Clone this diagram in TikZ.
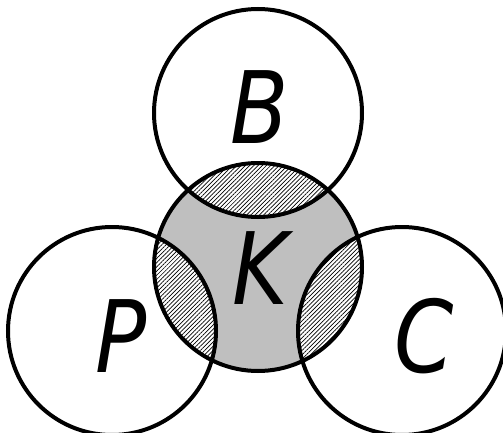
\documentclass[tikz,border=0pt]{standalone}
\usepackage{fontspec}
\newfontfamily\lblfont{DejaVu Sans}
\usetikzlibrary{patterns.meta}
\tikzset{ring/.style={draw,line width=4pt},
 core/.style={fill=black!25},
 lens/.style={fill=white,postaction={pattern={Lines[angle=45,distance=3pt,line width=.7pt]}}},
 lbl/.style={font=\lblfont\itshape\fontsize{100}{100}\selectfont,inner sep=0pt,xscale=.85}}
\begin{document}
\begin{tikzpicture}[x=1pt,y=1pt]
\useasboundingbox (0,0) rectangle (503,432);
\def\rad{104}
\coordinate (k) at (258,165);
\coordinate (b) at (258,319);
\coordinate (p) at (112,101);
\coordinate (c) at (402,101);
\fill[core] (k) circle[radius=\rad];
\foreach \o in {b,p,c}{
 \begin{scope}
 \clip (k) circle[radius=\rad];
 \fill[lens] (\o) circle[radius=\rad];
 \end{scope}}
\foreach \o in {k,b,p,c}
 \draw[ring] (\o) circle[radius=\rad];
\node[lbl] (lb) at (260,325) {B};
\node[lbl] (lk) at (260,164) {K};
\node[lbl] (lp) at (121,96) {P};
\node[lbl] (lc) at (424,96) {C};
\end{tikzpicture}
\end{document}
